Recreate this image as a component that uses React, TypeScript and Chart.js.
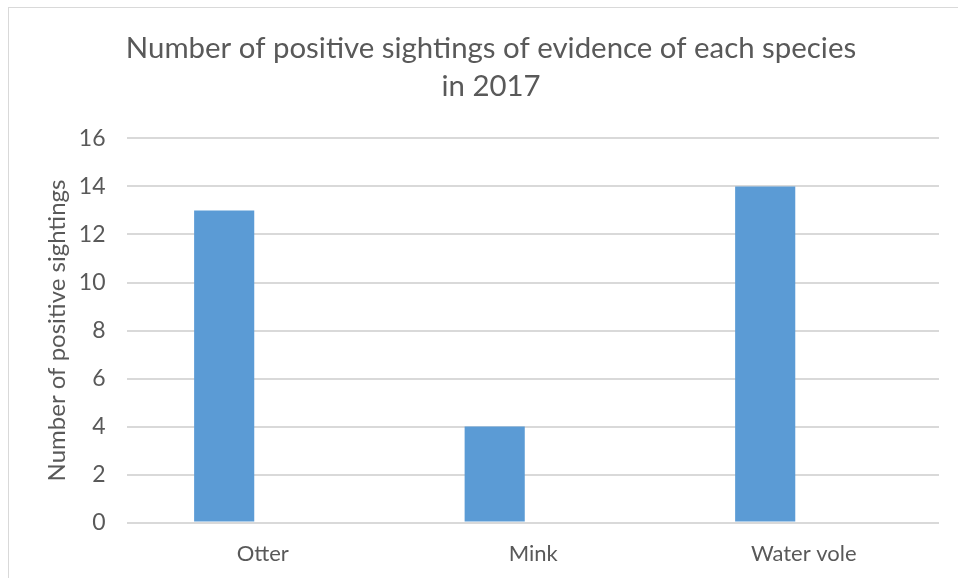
import React, { useEffect, useRef } from "react";
import { Chart, registerables } from "chart.js";

Chart.register(...registerables);

const categories: string[] = ["Otter", "Mink", "Water vole"];
const sightings: number[] = [13, 4, 14];
const emptySeries: (number | null)[] = [null, null, null];
const titleLines: string[] = [
  "Number of positive sightings of evidence of each species",
  "in 2017",
];
const yAxisTitle = "Number of positive sightings";

const TEXT = "#595959";
const GRID = "#D9D9D9";
const BAR = "#5B9BD5";
const FONT = "Lato, 'Open Sans', sans-serif";

export default function App() {
  const canvasRef = useRef<HTMLCanvasElement | null>(null);

  useEffect(() => {
    if (!canvasRef.current) return;
    const chart = new Chart(canvasRef.current, {
      type: "bar",
      data: {
        labels: categories,
        datasets: [
          {
            label: "Sightings",
            data: sightings,
            backgroundColor: BAR,
            borderWidth: 0,
            categoryPercentage: 0.57,
            barPercentage: 0.78,
          },
          {
            label: "Series 2",
            data: emptySeries,
            backgroundColor: BAR,
            categoryPercentage: 0.57,
            barPercentage: 0.78,
          },
        ],
      },
      options: {
        animation: false,
        responsive: true,
        maintainAspectRatio: false,
        layout: { padding: { left: 34, right: 28, top: 0, bottom: 0 } },
        plugins: {
          legend: { display: false },
          tooltip: { enabled: false },
          title: {
            display: true,
            text: titleLines,
            color: TEXT,
            font: { family: FONT, size: 29.4, weight: "normal", lineHeight: 1.3 },
            padding: { top: 21, bottom: 33 },
          },
        },
        scales: {
          x: {
            grid: { display: false, drawTicks: false },
            border: { display: false },
            ticks: {
              color: TEXT,
              font: { family: FONT, size: 22 },
              padding: 18,
            },
          },
          y: {
            min: 0,
            max: 16,
            ticks: {
              stepSize: 2,
              color: TEXT,
              font: { family: FONT, size: 23 },
              padding: 22,
            },
            grid: { color: GRID, lineWidth: 2, drawTicks: false },
            border: { display: false },
            title: {
              display: true,
              text: yAxisTitle,
              color: TEXT,
              font: { family: FONT, size: 24, lineHeight: 1.2 },
              padding: { top: 0, bottom: -15 },
            },
          },
        },
      },
    });
    return () => chart.destroy();
  }, []);

  return (
    <div
      style={{
        position: "fixed",
        left: 0,
        top: 0,
        width: 958,
        height: 578,
        overflow: "hidden",
        background: "#fff",
      }}
    >
      <div
        style={{
          position: "absolute",
          left: 8,
          top: 7,
          width: 980,
          height: 620,
          borderLeft: `1px solid ${GRID}`,
          borderTop: `1px solid ${GRID}`,
        }}
      />
      <div
        style={{
          position: "absolute",
          left: 9,
          top: 8,
          width: 958,
          height: 577,
        }}
      >
        <canvas ref={canvasRef} />
      </div>
    </div>
  );
}
